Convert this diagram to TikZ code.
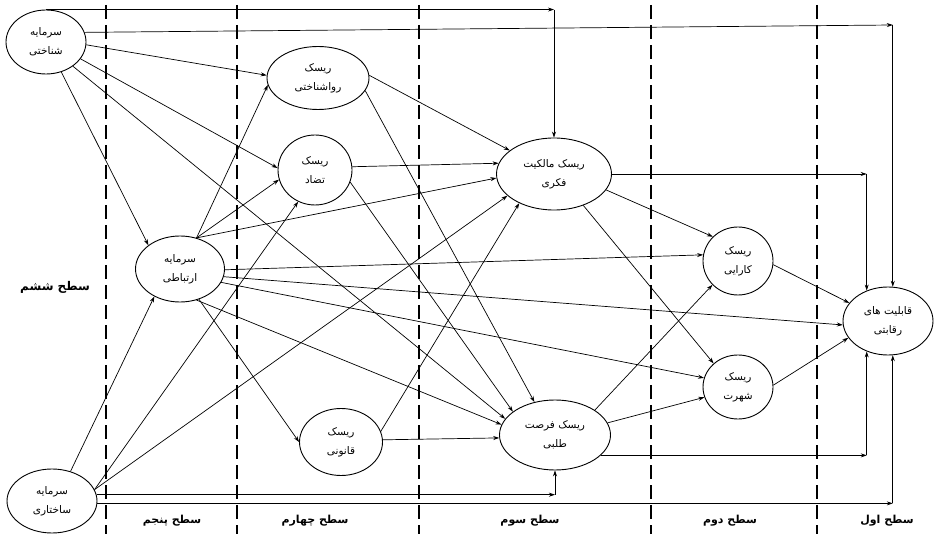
\documentclass[tikz,border=0pt]{standalone}
\usepackage{fontspec}
\newfontfamily\arabicfont[Script=Arabic]{DejaVu Sans}
\TeXXeTstate=1
\usetikzlibrary{shapes.geometric,arrows.meta}
\newcommand{\fa}[1]{\beginR #1\endR}
\begin{document}
\begin{tikzpicture}[x=1pt,y=-1pt,
  el/.style={draw, ellipse, line width=0.9pt, inner sep=0pt, align=center,
    font=\arabicfont\fontsize{10.5}{19}\selectfont},
  edge/.style={line width=0.7pt, -{Stealth[length=6pt,width=4pt]}},
  lvl/.style={font=\arabicfont\bfseries\fontsize{11}{13}\selectfont},
  sepline/.style={line width=1.6pt, dash pattern=on 14pt off 6pt}]
\useasboundingbox[fill=white] (0,0) rectangle (937,534);

% level separators
\foreach \x in {106,237,419,651,817} \draw[sepline] (\x,5) -- (\x,534);

% nodes
\node[el, minimum width=80pt, minimum height=64pt] (S1) at (46,42) {\fa{سرمایه}\\\fa{شناختی}};
\node[el, minimum width=89pt, minimum height=66pt] (S2) at (180,269) {\fa{سرمایه}\\\fa{ارتباطی}};
\node[el, minimum width=90pt, minimum height=64pt] (S3) at (52,501) {\fa{سرمایه}\\\fa{ساختاری}};
\node[el, minimum width=102pt, minimum height=63pt] (R1) at (318,78) {\fa{ریسک}\\\fa{رواشناختی}};
\node[el, minimum width=74pt, minimum height=70pt] (R2) at (315,170) {\fa{ریسک}\\\fa{تضاد}};
\node[el, minimum width=83pt, minimum height=67pt] (R3) at (341,442) {\fa{ریسک}\\\fa{قانونی}};
\node[el, minimum width=115pt, minimum height=72pt] (M) at (554,174) {\fa{ریسک مالکیت}\\\fa{فکری}};
\node[el, minimum width=111pt, minimum height=70pt] (F) at (555,435) {\fa{ریسک فرصت}\\\fa{طلبی}};
\node[el, minimum width=70pt, minimum height=68pt] (K) at (738,261) {\fa{ریسک}\\\fa{کارایی}};
\node[el, minimum width=70pt, minimum height=64pt] (Sh) at (738,387) {\fa{ریسک}\\\fa{شهرت}};
\node[el, minimum width=90pt, minimum height=68pt] (Q) at (888,321) {\fa{قابلیت های}\\\fa{رقابتی}};

% level labels
\node[lvl, font=\arabicfont\bfseries\fontsize{12}{14}\selectfont] (L6) at (55,287) {\fa{سطح ششم}};
\node[lvl] (L5) at (172,521) {\fa{سطح پنجم}};
\node[lvl] (L4) at (315,521) {\fa{سطح چهارم}};
\node[lvl] (L3) at (530,521) {\fa{سطح سوم}};
\node[lvl] (L2) at (730,521) {\fa{سطح دوم}};
\node[lvl] (L1) at (887,521) {\fa{سطح اول}};

% from S1
\draw[edge] (S1.-4) -- (R1.177);
\draw[edge] (S1.-26) -- (R2.177);
\draw[edge] (S1.-42) -- (F.162);
\draw[edge] (S1.-63) -- (S2.143);
\coordinate (c1) at (S1.north -| M.north);
\draw[edge] (S1.north) -- (c1);
\draw[edge] (c1) -- (M.north);
\coordinate (t2) at (0,25);
\coordinate (c2) at (Q.82 |- t2);
\draw[edge] (S1.14) -- (c2);
\draw[edge] (c2) -- (Q.82);

% from S2
\draw[edge] (S2.62) -- (R1.-172);
\draw[edge] (S2.62) -- (R2.195);
\draw[edge] (S2.62) -- (M.184);
\draw[edge] (S2.-1) -- (K.170);
\draw[edge] (S2.-10) -- (Q.185);
\draw[edge] (S2.-18) -- (Sh.165);
\draw[edge] (S2.-62) -- (F.169);
\draw[edge] (S2.-58) -- (R3.180);

% from S3
\draw[edge] (S3.58) -- (S2.227);
\draw[edge] (S3.15) -- (R2.242);
\draw[edge] (S3.15) -- (M.205);
\coordinate (c3) at (S3.8 -| F.south);
\draw[edge] (S3.8) -- (c3);
\draw[edge] (c3) -- (F.south);
\coordinate (c4) at (S3.-3 -| Q.-82);
\draw[edge] (S3.-3) -- (c4);
\draw[edge] (c4) -- (Q.-82);

% level 4 risks
\draw[edge] (R1.3) -- (M.152);
\draw[edge] (R1.-15) -- (F.122);
\draw[edge] (R2.5) -- (M.169);
\draw[edge] (R2.-19) -- (F.151);
\draw[edge] (R3.15) -- (M.220);
\draw[edge] (R3.3) -- (F.183);

% level 3 risks
\draw[edge] (M.-17) -- (K.136);
\draw[edge] (M.-47) -- (Sh.136);
\coordinate (c5) at (M.east -| Q.125);
\draw[edge] (M.east) -- (c5);
\draw[edge] (c5) -- (Q.125);
\draw[edge] (F.32) -- (K.223);
\draw[edge] (F.13) -- (Sh.197);
\coordinate (c6) at (F.-24 -| Q.-125);
\draw[edge] (F.-24) -- (c6);
\draw[edge] (c6) -- (Q.-125);

% level 2 risks
\draw[edge] (K.-6) -- (Q.155);
\draw[edge] (Sh.3) -- (Q.203);
\end{tikzpicture}
\end{document}
